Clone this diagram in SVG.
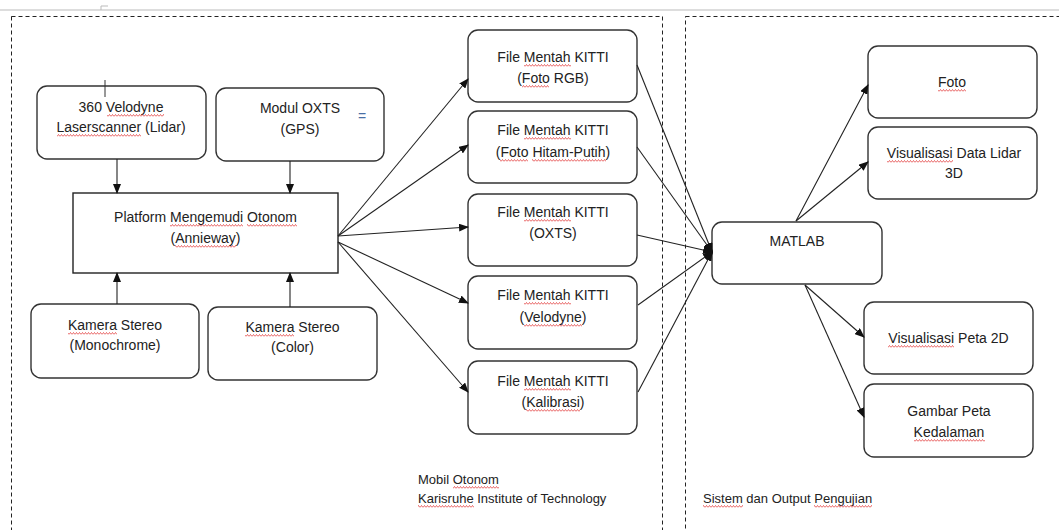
<svg xmlns="http://www.w3.org/2000/svg" width="1059" height="530" viewBox="0 0 1059 530">
<style>
.bg{fill:#ffffff}
.box{fill:#ffffff;stroke:#333333;stroke-width:1.4}
.sq{fill:#ffffff;stroke:#222222;stroke-width:1.4}
.dash{fill:none;stroke:#222222;stroke-width:1;stroke-dasharray:4 3}
.t{font-family:"Liberation Sans",Arial,sans-serif;font-size:14px;fill:#222222;text-anchor:middle}
.s{font-family:"Liberation Sans",Arial,sans-serif;font-size:13px;fill:#222222}
.c{fill:none;stroke:#222222;stroke-width:1.1}
.wv{fill:none;stroke:#e02a2a;stroke-width:0.7}
</style>
<defs>
<marker id="ah" markerWidth="10" markerHeight="8" refX="9" refY="4" orient="auto" markerUnits="userSpaceOnUse">
<path d="M0,0 L10,4 L0,8 Z" fill="#111111"/>
</marker>
<pattern id="w0" x="0" y="0" width="3" height="3" patternUnits="userSpaceOnUse"><path class="wv" d="M0,2.5 L1.5,0.5 L3,2.5"/></pattern>
<pattern id="w1" x="0" y="1" width="3" height="3" patternUnits="userSpaceOnUse"><path class="wv" d="M0,2.5 L1.5,0.5 L3,2.5"/></pattern>
<pattern id="w2" x="0" y="2" width="3" height="3" patternUnits="userSpaceOnUse"><path class="wv" d="M0,2.5 L1.5,0.5 L3,2.5"/></pattern>
</defs>
<rect class="bg" x="0" y="0" width="1059" height="530"/>
<line x1="0" y1="10" x2="1059" y2="10" stroke="#dddddd" stroke-width="2"/>
<path d="M101,10 V6 H108" fill="none" stroke="#bbbbbb" stroke-width="1"/>
<g id="groups">
<rect class="dash" x="11.5" y="16.5" width="651" height="520"/>
<rect class="dash" x="685.5" y="16.5" width="380" height="520"/>
</g>
<g id="n-velodyne">
<rect class="box" x="37" y="86" width="169" height="73" rx="10"/>
<text class="t" x="121" y="112">360 Velodyne</text>
<text class="t" x="121" y="132">Laserscanner (Lidar)</text>
<rect x="107" y="114" width="57" height="3" fill="url(#w0)"/>
<rect x="57" y="134" width="84" height="3" fill="url(#w2)"/>
<line x1="105" y1="80" x2="105" y2="97" stroke="#333" stroke-width="1"/>
</g>
<g id="n-oxts">
<rect class="box" x="216" y="88" width="168" height="73" rx="10"/>
<text class="t" x="300" y="113">Modul OXTS</text>
<text class="t" x="300" y="134">(GPS)</text>
<text x="362" y="121" font-family="Liberation Sans,sans-serif" font-size="14" fill="#4a6fa5" text-anchor="middle">=</text>
</g>
<g id="n-platform">
<rect class="sq" x="73" y="193" width="265" height="80"/>
<text class="t" x="205.5" y="222">Platform Mengemudi Otonom</text>
<text class="t" x="205.5" y="243">(Annieway)</text>
<rect x="170" y="224" width="73" height="3" fill="url(#w2)"/>
<rect x="247" y="224" width="50" height="3" fill="url(#w2)"/>
<rect x="175" y="245" width="61" height="3" fill="url(#w2)"/>
</g>
<g id="n-kamera-mono">
<rect class="box" x="31" y="304" width="168" height="74" rx="10"/>
<text class="t" x="115" y="330">Kamera Stereo</text>
<text class="t" x="115" y="350">(Monochrome)</text>
<rect x="68" y="332" width="49" height="3" fill="url(#w2)"/>
</g>
<g id="n-kamera-color">
<rect class="box" x="208" y="307" width="169" height="73" rx="10"/>
<text class="t" x="292.5" y="332">Kamera Stereo</text>
<text class="t" x="292.5" y="352">(Color)</text>
<rect x="245" y="334" width="49" height="3" fill="url(#w1)"/>
</g>
<g id="n-f1">
<rect class="box" x="468" y="30" width="169" height="72" rx="10"/>
<text class="t" x="553" y="62">File Mentah KITTI</text>
<text class="t" x="553" y="83">(Foto RGB)</text>
<rect x="524" y="64" width="47" height="3" fill="url(#w1)"/>
<rect x="522" y="85" width="27" height="3" fill="url(#w1)"/>
</g>
<g id="n-f2">
<rect class="box" x="468" y="111" width="169" height="72" rx="10"/>
<text class="t" x="553" y="135">File Mentah KITTI</text>
<text class="t" x="553" y="157">(Foto Hitam-Putih)</text>
<rect x="524" y="137" width="47" height="3" fill="url(#w2)"/>
<rect x="500" y="159" width="28" height="3" fill="url(#w0)"/>
<rect x="532" y="159" width="74" height="3" fill="url(#w0)"/>
</g>
<g id="n-f3">
<rect class="box" x="468" y="194" width="169" height="72" rx="10"/>
<text class="t" x="553" y="217">File Mentah KITTI</text>
<text class="t" x="553" y="238">(OXTS)</text>
<rect x="524" y="219" width="47" height="3" fill="url(#w0)"/>
</g>
<g id="n-f4">
<rect class="box" x="468" y="276" width="169" height="73" rx="10"/>
<text class="t" x="553" y="300">File Mentah KITTI</text>
<text class="t" x="553" y="322">(Velodyne)</text>
<rect x="524" y="302" width="47" height="3" fill="url(#w2)"/>
<rect x="524" y="324" width="58" height="3" fill="url(#w0)"/>
</g>
<g id="n-f5">
<rect class="box" x="468" y="361" width="169" height="73" rx="10"/>
<text class="t" x="553" y="386">File Mentah KITTI</text>
<text class="t" x="553" y="407">(Kalibrasi)</text>
<rect x="524" y="388" width="47" height="3" fill="url(#w1)"/>
<rect x="526" y="409" width="54" height="3" fill="url(#w1)"/>
</g>
<g id="n-matlab">
<rect class="box" x="712" y="222" width="170" height="62" rx="10"/>
<text class="t" x="797" y="246">MATLAB</text>
</g>
<g id="n-foto">
<rect class="box" x="868" y="46" width="169" height="72" rx="10"/>
<text class="t" x="952" y="87">Foto</text>
<rect x="938" y="89" width="28" height="3" fill="url(#w2)"/>
</g>
<g id="n-lidar3d">
<rect class="box" x="868" y="127" width="169" height="72" rx="10"/>
<text class="t" x="954" y="158">Visualisasi Data Lidar</text>
<text class="t" x="954" y="178">3D</text>
<rect x="887" y="160" width="66" height="3" fill="url(#w1)"/>
</g>
<g id="n-peta2d">
<rect class="box" x="864" y="302" width="169" height="72" rx="10"/>
<text class="t" x="948.5" y="343">Visualisasi Peta 2D</text>
<rect x="888" y="345" width="66" height="3" fill="url(#w0)"/>
</g>
<g id="n-kedalaman">
<rect class="box" x="864" y="384" width="169" height="73" rx="10"/>
<text class="t" x="949" y="416">Gambar Peta</text>
<text class="t" x="949" y="437">Kedalaman</text>
<rect x="914" y="439" width="71" height="3" fill="url(#w1)"/>
</g>
<g id="labels">
<text class="s" x="418" y="484">Mobil Otonom</text>
<text class="s" x="418" y="503">Karisruhe Institute of Technology</text>
<text class="s" x="703" y="503">Sistem dan Output Pengujian</text>
<rect x="453" y="486" width="46" height="3" fill="url(#w0)"/>
<rect x="418" y="505" width="56" height="3" fill="url(#w1)"/>
<rect x="703" y="505" width="40" height="3" fill="url(#w1)"/>
<rect x="814" y="505" width="58" height="3" fill="url(#w1)"/>
</g>
<g id="connectors">
<line class="c" x1="117" y1="159" x2="117" y2="193" marker-end="url(#ah)"/>
<line class="c" x1="290" y1="161" x2="290" y2="193" marker-end="url(#ah)"/>
<line class="c" x1="117" y1="304" x2="117" y2="273" marker-end="url(#ah)"/>
<line class="c" x1="290" y1="307" x2="290" y2="273" marker-end="url(#ah)"/>
<line class="c" x1="338" y1="236" x2="468" y2="79" marker-end="url(#ah)"/>
<line class="c" x1="338" y1="236" x2="468" y2="145" marker-end="url(#ah)"/>
<line class="c" x1="338" y1="236" x2="468" y2="227" marker-end="url(#ah)"/>
<line class="c" x1="338" y1="242" x2="468" y2="303" marker-end="url(#ah)"/>
<line class="c" x1="338" y1="242" x2="468" y2="392" marker-end="url(#ah)"/>
<line class="c" x1="637" y1="65" x2="712" y2="252" marker-end="url(#ah)"/>
<line class="c" x1="637" y1="147" x2="712" y2="252" marker-end="url(#ah)"/>
<line class="c" x1="637" y1="235" x2="712" y2="252" marker-end="url(#ah)"/>
<line class="c" x1="638" y1="305" x2="712" y2="252" marker-end="url(#ah)"/>
<line class="c" x1="638" y1="392" x2="712" y2="252" marker-end="url(#ah)"/>
<circle cx="709" cy="252" r="4" fill="#111111"/>
<line class="c" x1="796" y1="221" x2="868" y2="85" marker-end="url(#ah)"/>
<line class="c" x1="796" y1="221" x2="868" y2="162" marker-end="url(#ah)"/>
<line class="c" x1="805" y1="285" x2="864" y2="337" marker-end="url(#ah)"/>
<line class="c" x1="805" y1="285" x2="864" y2="417" marker-end="url(#ah)"/>
</g>
</svg>
